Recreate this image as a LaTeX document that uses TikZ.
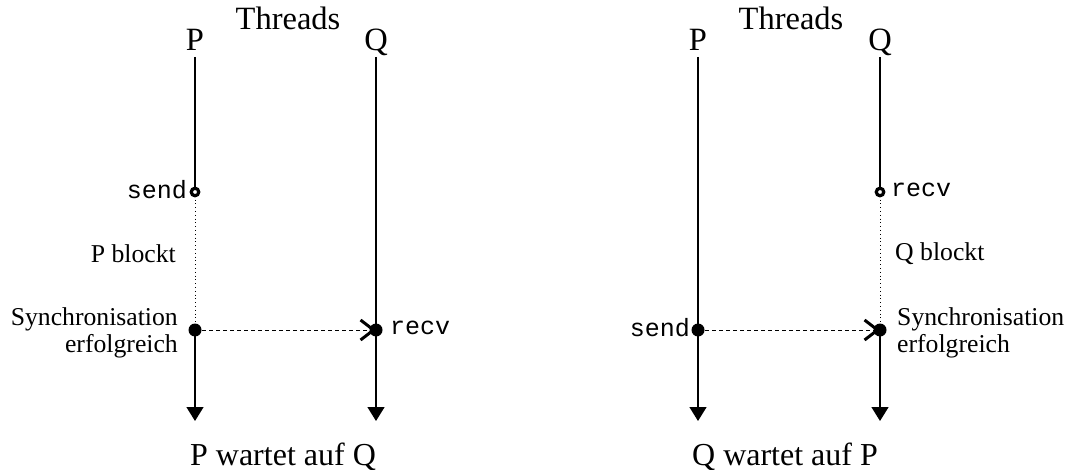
\documentclass[tikz,border=0pt]{standalone}
\usepackage{fontspec}
\setmainfont{Liberation Serif}
\setmonofont{Liberation Mono}
\usetikzlibrary{arrows.meta}
\tikzset{
  life/.style={line width=1.4pt},
  waiting/.style={line width=0.8pt, dash pattern=on 0.8pt off 3pt},
  msg/.style={line width=1pt, dash pattern=on 4pt off 3pt,
    -{Straight Barb[length=13pt,width=20pt,line width=3pt]}},
  down/.style={life, -{Triangle[length=14pt,width=17pt]}},
  opendot/.style={circle, draw, fill=white, line width=3.2pt, inner sep=0pt, minimum size=7.5pt},
  dot/.style={circle, fill=black, inner sep=0pt, minimum size=13pt},
  head/.style={font=\fontsize{32.5}{34}\selectfont, inner sep=0pt, anchor=base},
  side/.style={font=\fontsize{25.7}{27}\selectfont, inner sep=0pt},
  code/.style={font=\ttfamily\fontsize{25}{27}\selectfont, inner sep=0pt},
  caption/.style={font=\fontsize{32}{34}\selectfont, inner sep=0pt, anchor=base},
}
\begin{document}
\begin{tikzpicture}[x=1pt,y=-1pt]
\useasboundingbox (0,0) rectangle (1067,470);

% ---------- left: send before recv ----------
\node[head] (thL) at (288,30) {Threads};
\node[head] (pL) at (195,51) {P};
\node[head] (qL) at (376,51) {Q};
\coordinate (pLtop) at (195,57);
\coordinate (pLsend) at (195,192);
\coordinate (pLsync) at (195,330);
\coordinate (pLend) at (195,421);
\coordinate (qLtop) at (376,57);
\coordinate (qLsync) at (376,330);
\coordinate (qLend) at (376,421);

\draw[life] (pLtop) -- (pLsend);
\draw[waiting] (pLsend) -- (pLsync);
\draw[down] (pLsync) -- (pLend);
\draw[down] (qLtop) -- (qLend);

\node[opendot] (sendL) at (pLsend) {};
\node[dot] (syncPL) at (pLsync) {};
\node[dot] (syncQL) at (qLsync) {};
\draw[msg] (syncPL.center) -- (syncQL.center);

\node[code, anchor=east] (sendLbl) at (187,190) {send};
\node[code, anchor=west] (recvLbl) at (390,328) {recv};
\node[side, anchor=east] (blockL) at (176,254) {P blockt};
\node[side, anchor=east, align=right] (syncLblL) at (178,333) {Synchronisation\\erfolgreich};
\node[caption] (capL) at (283,465) {P wartet auf Q};

% ---------- right: recv before send ----------
\node[head] (thR) at (791,30) {Threads};
\node[head] (pR) at (698,51) {P};
\node[head] (qR) at (880,51) {Q};
\coordinate (pRtop) at (698,57);
\coordinate (pRsync) at (698,330);
\coordinate (pRend) at (698,421);
\coordinate (qRtop) at (880,57);
\coordinate (qRrecv) at (880,192);
\coordinate (qRsync) at (880,330);
\coordinate (qRend) at (880,421);

\draw[down] (pRtop) -- (pRend);
\draw[life] (qRtop) -- (qRrecv);
\draw[waiting] (qRrecv) -- (qRsync);
\draw[down] (qRsync) -- (qRend);

\node[opendot] (recvR) at (qRrecv) {};
\node[dot] (syncPR) at (pRsync) {};
\node[dot] (syncQR) at (qRsync) {};
\draw[msg] (syncPR.center) -- (syncQR.center);

\node[code, anchor=west] (recvLblR) at (891,190) {recv};
\node[code, anchor=east] (sendLblR) at (690,328) {send};
\node[side, anchor=west] (blockR) at (895,254) {Q blockt};
\node[side, anchor=west, align=left] (syncLblR) at (897,333) {Synchronisation\\erfolgreich};
\node[caption] (capR) at (785,465) {Q wartet auf P};
\end{tikzpicture}
\end{document}
